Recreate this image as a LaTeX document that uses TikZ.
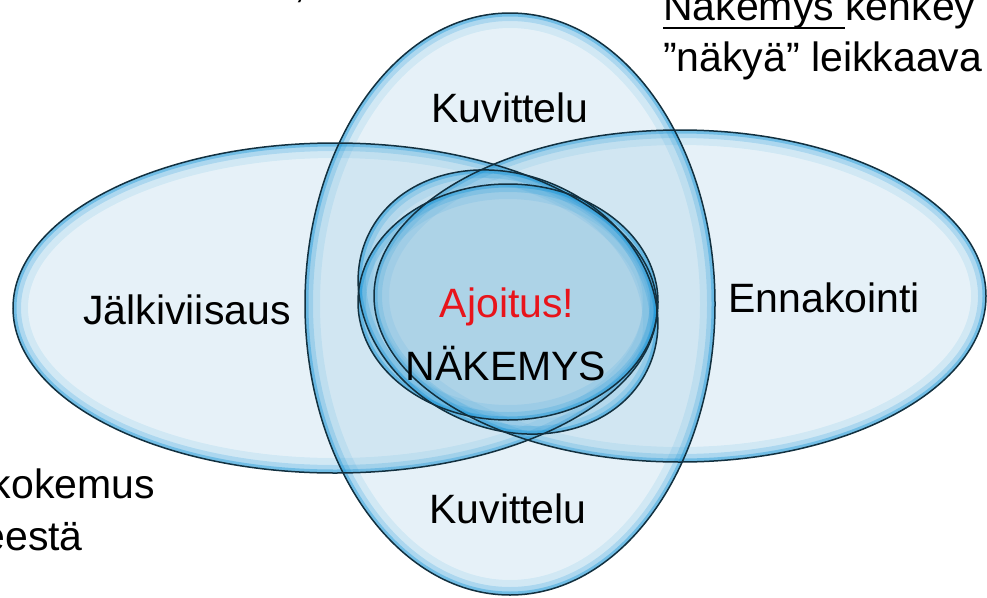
\documentclass[tikz,border=0pt]{standalone}
\usepackage{fontspec}
\setmainfont{Liberation Sans}
\definecolor{bfill}{RGB}{115,180,215}
\definecolor{bring}{RGB}{25,150,215}
\definecolor{bedge}{RGB}{18,48,63}
\definecolor{ared}{RGB}{232,20,27}
\tikzset{
  lbl/.style={font=\fontsize{41}{49}\selectfont, inner sep=0pt, anchor=base},
  bubbleedge/.style={draw=bedge, line width=1.5pt},
}
\newcommand\mybubble[5]{%
  \begin{scope}
    \fill[bfill, fill opacity=#5] #1 ellipse[x radius=#2, y radius=#3, rotate=#4];
    \clip #1 ellipse[x radius=#2, y radius=#3, rotate=#4];
    \draw[bring, draw opacity=0.10, line width=30pt] #1 ellipse[x radius=#2, y radius=#3, rotate=#4];
    \draw[bring, draw opacity=0.20, line width=16pt] #1 ellipse[x radius=#2, y radius=#3, rotate=#4];
    \draw[bring, draw opacity=0.40, line width=7pt] #1 ellipse[x radius=#2, y radius=#3, rotate=#4];
  \end{scope}}
\newcommand\myoutline[4]{\draw[bubbleedge] #1 ellipse[x radius=#2, y radius=#3, rotate=#4];}
\begin{document}
\begin{tikzpicture}[x=1pt,y=-1pt]
\useasboundingbox (0,0) rectangle (987,597);
\clip (0,0) rectangle (987,597);
% bubbles
\mybubble{(335,308)}{322pt}{165pt}{0}{0.18}
\mybubble{(680,296)}{306pt}{166pt}{0}{0.18}
\mybubble{(510,304)}{205pt}{291pt}{0}{0.18}
\mybubble{(508,302)}{155pt}{126pt}{-26}{0.12}
\mybubble{(508,302)}{150pt}{118pt}{0}{0.15}
% outlines
\myoutline{(335,308)}{322pt}{165pt}{0}
\myoutline{(680,296)}{306pt}{166pt}{0}
\myoutline{(510,304)}{205pt}{291pt}{0}
\myoutline{(508,302)}{155pt}{126pt}{-26}
\myoutline{(508,302)}{150pt}{118pt}{0}
% labels
\node[lbl] (kuvtop) at (510,122) {Kuvittelu};
\node[lbl] (jalki) at (187,324) {Jälkiviisaus};
\node[lbl] (enna) at (824,312) {Ennakointi};
\node[lbl, text=ared] (ajoitus) at (507,317) {Ajoitus!};
\node[lbl] (nakemys) at (506,380) {NÄKEMYS};
\node[lbl] (kuvbot) at (508,523) {Kuvittelu};
\node[lbl, anchor=base east] (kokemus) at (155,498) {kokemus};
\node[lbl, anchor=base east] (eesta) at (83,550) {eestä};
\node[lbl, anchor=base east] (comma) at (306,-2) {,};
\node[lbl, anchor=base west] (line1) at (663,20) {\setbox0\hbox{Näkemys }\rlap{\rule[-9pt]{\wd0}{1.8pt}}\box0 kehkey};
\node[lbl, anchor=base west] (line2) at (663,71) {”näkyä” leikkaava};
\end{tikzpicture}
\end{document}
